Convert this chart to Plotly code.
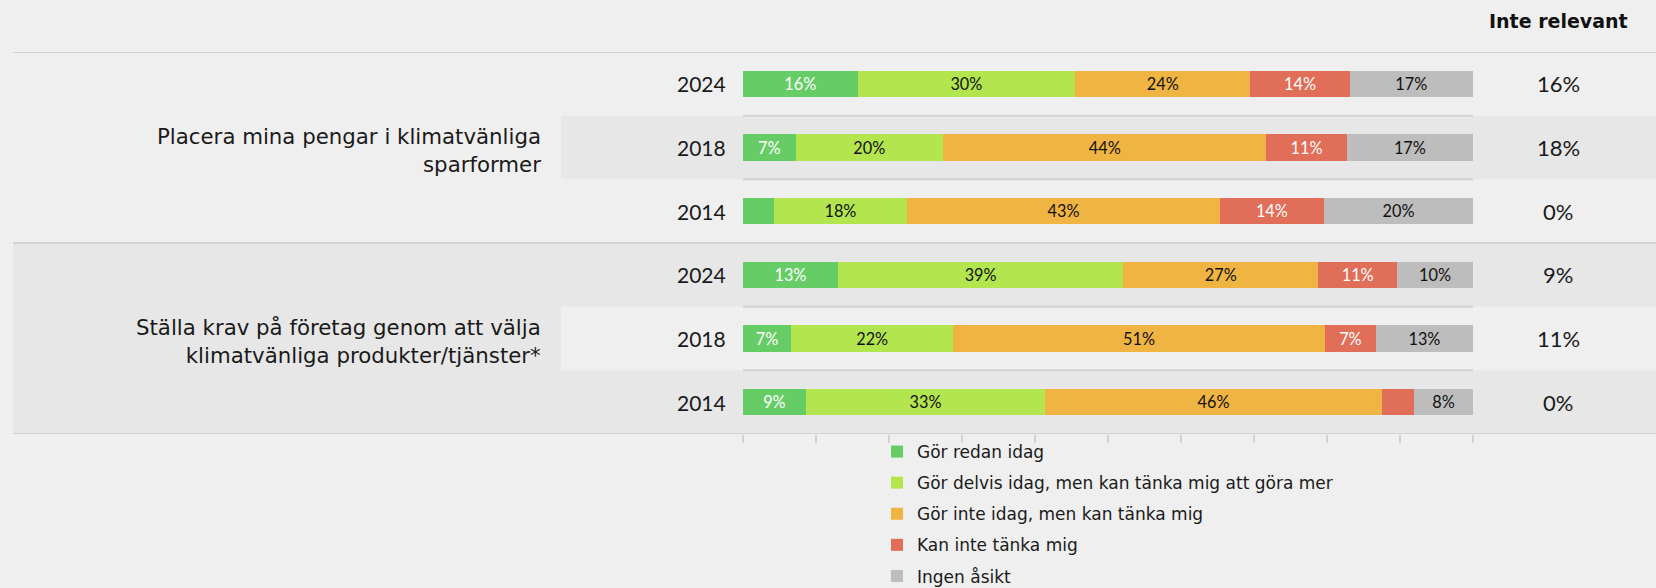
import plotly.graph_objects as go

# ---------------- data ----------------
row_years = ["2024", "2018", "2014", "2024", "2018", "2014"]
group_labels = [
    "Placera mina pengar i klimatvänliga<br>sparformer",
    "Ställa krav på företag genom att välja<br>klimatvänliga produkter/tjänster*",
]
series_names = [
    "Gör redan idag",
    "Gör delvis idag, men kan tänka mig att göra mer",
    "Gör inte idag, men kan tänka mig",
    "Kan inte tänka mig",
    "Ingen åsikt",
]
gor_redan = [15.7, 7.2, 4.2, 13.0, 6.6, 8.6]
gor_delvis = [29.8, 20.2, 18.3, 39.1, 22.2, 32.8]
gor_inte = [24.0, 44.3, 42.8, 26.7, 50.9, 46.1]
kan_inte = [13.6, 11.0, 14.3, 10.8, 7.0, 4.4]
ingen_asikt = [16.9, 17.3, 20.4, 10.4, 13.3, 8.1]
inte_relevant = [16, 18, 0, 9, 11, 0]
x_ticks = [0, 10, 20, 30, 40, 50, 60, 70, 80, 90, 100]

# ---------------- style ----------------
colors = ["#66CD66", "#B3E64E", "#F0B443", "#E06E58", "#BDBDBD"]
text_colors = ["white", "#111111", "#111111", "white", "#111111"]
W, H = 1656, 588
BG = "#efefef"
BAND = "#e7e7e7"
LINE = "#d2d2d2"


def fx(px):
    return px / W


def fy(py):
    return 1 - py / H


series_values = [gor_redan, gor_delvis, gor_inte, kan_inte, ingen_asikt]
rows = list(range(len(row_years)))

fig = go.Figure()
for name, vals, col, tcol in zip(series_names, series_values, colors, text_colors):
    fig.add_trace(go.Bar(
        y=rows, x=vals, name=name, orientation="h",
        marker=dict(color=col, line=dict(width=0)),
        text=[f"{round(v)}%" if v >= 5 else "" for v in vals],
        textposition="inside", insidetextanchor="middle",
        textfont=dict(color=tcol, size=17, family="Lato"),
        width=0.41, legendgroup=name, hoverinfo="skip",
    ))

shapes = []
# group 2 label block (darker)
shapes.append(dict(type="rect", xref="paper", yref="y", x0=fx(13), x1=fx(561),
                   y0=2.5, y1=5.5, fillcolor=BAND, line=dict(width=0), layer="below"))
# darker row bands
for r in [1, 3, 5]:
    shapes.append(dict(type="rect", xref="paper", yref="y", x0=fx(561), x1=1,
                       y0=r - 0.5, y1=r + 0.5, fillcolor=BAND, line=dict(width=0), layer="below"))
# thin lines inside bar area between rows
for b in [0.5, 1.5, 3.5, 4.5]:
    shapes.append(dict(type="line", xref="x", yref="y", x0=0, x1=100, y0=b, y1=b,
                       line=dict(color=LINE, width=2), layer="below"))
# full-width separators
for b in [-0.5, 2.5, 5.5]:
    shapes.append(dict(type="line", xref="paper", yref="y", x0=fx(13), x1=1, y0=b, y1=b,
                       line=dict(color=LINE, width=2), layer="below"))

annotations = []
for r, yr in zip(rows, row_years):
    annotations.append(dict(xref="paper", yref="y", x=fx(728), y=r, text=yr,
                            showarrow=False, xanchor="right", yanchor="middle",
                            font=dict(family="Lato", size=21, color="#1a1a1a")))
for r, v in zip(rows, inte_relevant):
    annotations.append(dict(xref="paper", yref="y", x=fx(1558), y=r, text=f"{v}%",
                            showarrow=False, xanchor="center", yanchor="middle",
                            font=dict(family="Lato", size=22, color="#1a1a1a")))
for gi, lab in enumerate(group_labels):
    annotations.append(dict(xref="paper", yref="y", x=fx(543), y=gi * 3 + 1.04, text=lab,
                            showarrow=False, xanchor="right", yanchor="middle", align="right",
                            font=dict(family="DejaVu Sans", size=21.3, color="#1a1a1a")))
annotations.append(dict(xref="paper", yref="paper", x=fx(1558), y=fy(21), text="<b>Inte relevant</b>",
                        showarrow=False, xanchor="center", yanchor="middle",
                        font=dict(family="DejaVu Sans", size=19, color="#111111")))

fig.update_layout(
    width=W, height=H, barmode="stack",
    paper_bgcolor=BG, plot_bgcolor="rgba(0,0,0,0)",
    margin=dict(l=0, r=0, t=0, b=0, autoexpand=False),
    xaxis=dict(domain=[fx(743), fx(1473)], range=[0, 100], tickvals=x_ticks,
               showticklabels=False, showgrid=False, zeroline=False,
               showline=False, ticks="outside", ticklen=8, tickcolor=LINE, tickwidth=1.5,
               anchor="y", fixedrange=True),
    yaxis=dict(domain=[fy(434), fy(52)], range=[5.5, -0.5], showticklabels=False,
               showgrid=False, zeroline=False, showline=False, fixedrange=True),
    shapes=shapes, annotations=annotations,
    showlegend=True,
    legend=dict(orientation="v", x=fx(877), y=fy(434), xanchor="left", yanchor="top",
                font=dict(family="DejaVu Sans", size=17, color="#1a1a1a"),
                bgcolor="rgba(0,0,0,0)", tracegroupgap=6, traceorder="grouped"),
)

fig.write_html("out.html", config={"displayModeBar": False},
               post_script="document.body.style.margin='0';document.body.style.overflow='hidden';")
